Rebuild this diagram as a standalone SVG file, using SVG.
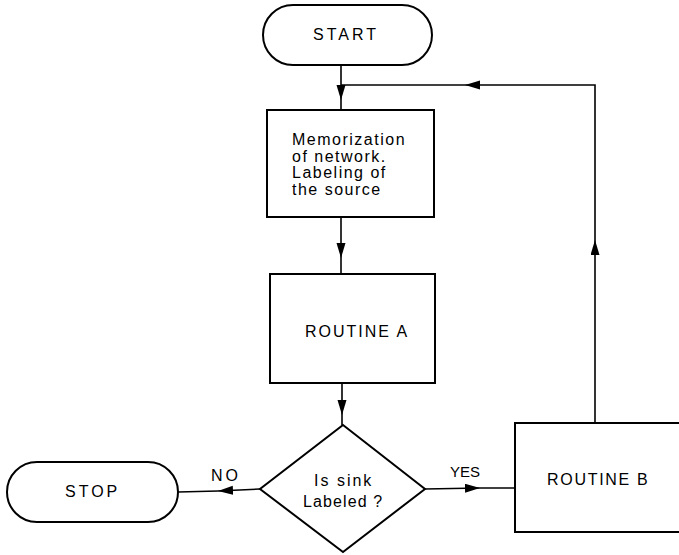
<svg xmlns="http://www.w3.org/2000/svg" width="679" height="555" viewBox="0 0 679 555">
<style>
.shape{fill:none;stroke:#000;stroke-width:2}
.conn{fill:none;stroke:#000;stroke-width:1.6}
text{font-family:"Liberation Sans",Arial,sans-serif;font-size:16px;fill:#000}
.memo{letter-spacing:1.5px}
</style>
<defs>
<marker id="arr" markerUnits="userSpaceOnUse" markerWidth="16" markerHeight="10" refX="15" refY="4.5" orient="auto">
<path d="M0,0 L15,4.5 L0,9 z" fill="#000"/>
</marker>
</defs>
<rect width="679" height="555" fill="#fff"/>
<g id="connectors">
<path class="conn" d="M341,65 V100" marker-end="url(#arr)"/>
<path class="conn" d="M341,100 V111"/>
<path class="conn" d="M341,218 V258" marker-end="url(#arr)"/>
<path class="conn" d="M341,258 V274"/>
<path class="conn" d="M342,383 V415" marker-end="url(#arr)"/>
<path class="conn" d="M342,415 V425"/>
<path class="conn" d="M260,489 L218,491" marker-end="url(#arr)"/>
<path class="conn" d="M218,491 L178,492"/>
<path class="conn" d="M425,489 L480,488" marker-end="url(#arr)"/>
<path class="conn" d="M480,488 L515,488"/>
<path class="conn" d="M595,423 V240" marker-end="url(#arr)"/>
<path class="conn" d="M595,240 V85 H465" marker-end="url(#arr)"/>
<path class="conn" d="M465,85 H341"/>
<text x="450" y="477" style="font-size:15px">YES</text>
<text x="211" y="481" style="letter-spacing:3px">NO</text>
</g>
<g id="start">
<rect class="shape" x="263" y="5" width="169" height="60" rx="30"/>
<text x="313" y="40" style="letter-spacing:3px">START</text>
</g>
<g id="memorization">
<rect class="shape" x="267" y="110" width="167" height="107"/>
<text class="memo" x="292" y="145">Memorization</text>
<text class="memo" x="292" y="161.5">of network.</text>
<text class="memo" x="292" y="178">Labeling of</text>
<text class="memo" x="292" y="194.5">the source</text>
</g>
<g id="routineA">
<rect class="shape" x="270" y="274" width="165" height="109"/>
<text x="305" y="337" style="letter-spacing:2px">ROUTINE A</text>
</g>
<g id="decision">
<polygon class="shape" points="343,425 425,489 343,552 260,489"/>
<text x="314" y="486" style="letter-spacing:2px">Is sink</text>
<text x="303" y="507" style="letter-spacing:1.1px">Labeled ?</text>
</g>
<g id="stop">
<rect class="shape" x="7" y="462" width="171" height="60" rx="30"/>
<text x="65" y="497" style="letter-spacing:3px">STOP</text>
</g>
<g id="routineB">
<rect class="shape" x="515" y="423" width="200" height="109"/>
<text x="547" y="485" style="letter-spacing:1.7px">ROUTINE B</text>
</g>
</svg>
